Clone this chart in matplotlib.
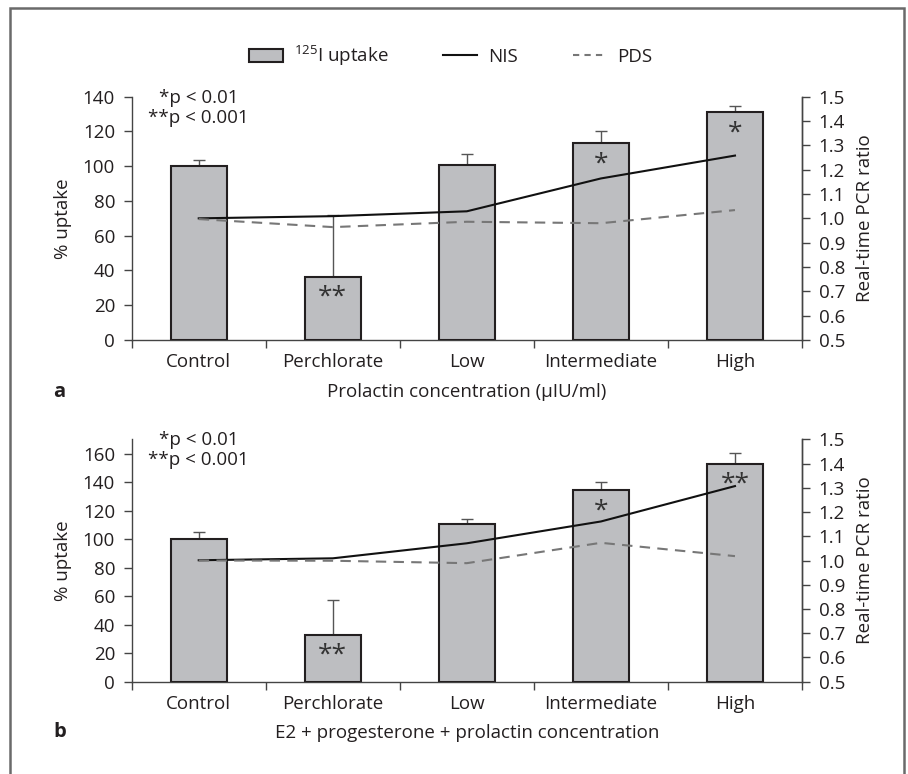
import matplotlib
matplotlib.use("Agg")
import matplotlib.pyplot as plt
from matplotlib.patches import Rectangle, Patch
from matplotlib.lines import Line2D

plt.rcParams['font.family'] = ['Open Sans', 'DejaVu Sans']
plt.rcParams['mathtext.fontset'] = 'custom'
plt.rcParams['mathtext.rm'] = 'Open Sans'
plt.rcParams['font.size'] = 13.5

categories = ['Control', 'Perchlorate', 'Low', 'Intermediate', 'High']

# panel a: prolactin
uptake_a = [100, 36.4, 100.5, 113.2, 131.2]
err_a = [3.3, 35.6, 6.8, 7.2, 3.6]
nis_a = [1.0, 1.009, 1.029, 1.164, 1.258]
pds_a = [0.997, 0.964, 0.986, 0.98, 1.034]
sig_a = ['', '**', '', '*', '*']

# panel b: E2 + progesterone + prolactin
uptake_b = [100, 33, 110.3, 134.1, 153]
err_b = [4.9, 24, 3.9, 6.3, 7.5]
nis_b = [1.001, 1.009, 1.071, 1.161, 1.307]
pds_b = [1.0, 0.999, 0.989, 1.073, 1.018]
sig_b = ['', '**', '', '*', '**']

BAR = '#bdbec1'
EDGE = '#231f20'
TXT = '#231f20'

W, H = 908, 774
fig = plt.figure(figsize=(W / 100, H / 100), dpi=100)


def panel(rect, uptake, err, nis, pds, sig, ymax, yticks, xlabel, letter, letter_y):
    ax = fig.add_axes(rect)
    x = range(len(categories))
    ax.bar(x, uptake, width=0.42, color=BAR, edgecolor=EDGE, linewidth=1.5, zorder=3)
    ax.errorbar(x, uptake, yerr=[[0] * len(err), err], fmt='none', ecolor='#555555',
                elinewidth=1, capsize=4.5, capthick=1, zorder=2)
    for i, s in enumerate(sig):
        if s:
            ax.annotate(s, (i, uptake[i]), xytext=(0, -15), textcoords='offset points',
                        ha='center', va='center', fontsize=19, color='#333333', zorder=4)
    ax.set_xlim(-0.5, len(categories) - 0.5)
    ax.set_ylim(0, ymax)
    ax.set_yticks(yticks)
    ax.set_xticks([i - 0.5 for i in range(len(categories) + 1)])
    ax.set_xticklabels([])
    ax.set_xticks(list(x), minor=True)
    ax.set_xticklabels(categories, minor=True)
    ax.tick_params(axis='x', which='minor', length=0, pad=9.5, colors=TXT)
    ax.tick_params(axis='x', which='major', length=6, width=1, color='#444444')
    ax.tick_params(axis='y', length=6, width=1, pad=6, color='#444444', labelcolor=TXT)
    for side in ['left', 'bottom', 'right']:
        ax.spines[side].set_color('#444444')
        ax.spines[side].set_linewidth(1)
    ax.spines['top'].set_visible(False)
    ax.set_ylabel('% uptake', color=TXT, va='center')
    ax.yaxis.set_label_coords(-0.1025, 0.5)
    ax.set_xlabel(xlabel, color=TXT, va='center')
    ax.xaxis.set_label_coords(0.5, -0.213)
    ax.annotate('*p < 0.01\n**p < 0.001', (0, 0.955), xycoords=('data', 'axes fraction'),
                ha='center', va='center', color=TXT, linespacing=1.15)
    fig.text(53 / W, letter_y, letter, fontsize=14.5, fontweight='bold', color=TXT,
             ha='left', va='center')

    ax2 = ax.twinx()
    ax2.plot(list(x), nis, color='#111111', lw=1.5, zorder=5)
    ax2.plot(list(x), pds, color='#777777', lw=1.5, ls=(0, (5, 3.5)), zorder=5)
    ax2.set_ylim(0.5, 1.5)
    ax2.set_yticks([0.5 + 0.1 * k for k in range(11)])
    ax2.set_yticklabels([f'{0.5 + 0.1 * k:.1f}' for k in range(11)])
    ax2.tick_params(axis='y', length=6, width=1, pad=6, color='#444444', labelcolor=TXT)
    for side in ['top', 'left', 'bottom']:
        ax2.spines[side].set_visible(False)
    ax2.spines['right'].set_color('#444444')
    ax2.spines['right'].set_linewidth(1)
    ax2.set_ylabel('Real-time PCR ratio', color=TXT, va='center')
    ax2.yaxis.set_label_coords(1.094, 0.5)
    return ax


left = 131.7 / W
width = (802 - 131.7) / W
panel([left, 1 - 340 / H, width, (340 - 96.7) / H], uptake_a, err_a, nis_a, pds_a, sig_a,
      140, range(0, 141, 20), 'Prolactin concentration (µIU/ml)', 'a', 1 - 391.7 / H)
panel([left, 1 - 681.7 / H, width, (681.7 - 439.3) / H], uptake_b, err_b, nis_b, pds_b, sig_b,
      170, range(0, 161, 20), 'E2 + progesterone + prolactin concentration', 'b', 1 - 731.7 / H)

handles = [Patch(facecolor=BAR, edgecolor=EDGE, linewidth=1.5),
           Line2D([], [], color='#111111', lw=1.5),
           Line2D([], [], color='#777777', lw=1.5, ls=(0, (3, 2.5)))]
labels = [r'$\mathregular{^{125}}$I uptake', 'NIS', 'PDS']
fig.legend(handles, labels, loc='center', bbox_to_anchor=(451 / W, 1 - 55.7 / H), ncol=3,
           frameon=False, handlelength=1.8, handletextpad=0.6, columnspacing=2.9,
           labelcolor=TXT)

# outer frame
fig.add_artist(Rectangle((10 / W, -0.01), (904 - 10) / W, 1.01 - 7.5 / H,
                         transform=fig.transFigure, fill=False, edgecolor='#6a6a6a',
                         linewidth=1.8, clip_on=False))

fig.savefig('out.png', dpi=100)
